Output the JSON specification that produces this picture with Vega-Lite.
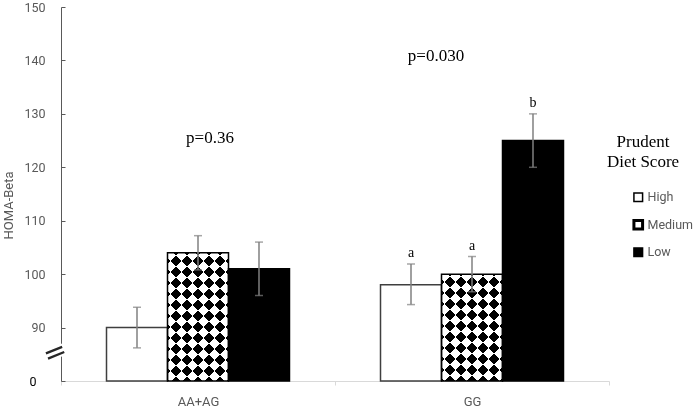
{
  "$schema": "https://vega.github.io/schema/vega-lite/v6.json",
  "width": 548,
  "height": 374,
  "autosize": {"type": "none"},
  "padding": {"left": 61, "top": 7, "right": 90, "bottom": 27},
  "background": "white",
  "config": {"view": {"stroke": null}, "font": "Roboto"},
  "datasets": {
    "bars": [
      {"geno": "AA+AG", "diet": "High", "mean": 90, "lo": 86.2, "hi": 93.8, "letter": ""},
      {"geno": "AA+AG", "diet": "Medium", "mean": 104, "lo": 100.8, "hi": 107.2, "letter": ""},
      {"geno": "AA+AG", "diet": "Low", "mean": 101, "lo": 96, "hi": 106, "letter": ""},
      {"geno": "GG", "diet": "High", "mean": 98, "lo": 94.3, "hi": 101.9, "letter": "a"},
      {"geno": "GG", "diet": "Medium", "mean": 100, "lo": 96.7, "hi": 103.3, "letter": "a"},
      {"geno": "GG", "diet": "Low", "mean": 125, "lo": 120, "hi": 130, "letter": "b"}
    ],
    "pvals": [
      {"geno": "AA+AG", "label": "p=0.36", "y": 125.4},
      {"geno": "GG", "label": "p=0.030", "y": 140.9}
    ]
  },
  "data": {"name": "bars"},
  "layer": [
    {
      "mark": {"type": "bar"},
      "encoding": {
        "x": {"field": "geno", "type": "nominal", "title": null,
          "scale": {"domain": ["AA+AG", "GG"], "paddingInner": 0, "paddingOuter": 0},
          "axis": {"labelAngle": 0, "labelFont": "Roboto", "labelFontSize": 13, "labelColor": "#595959",
                   "domainColor": "#d9d9d9", "domainWidth": 1, "tickColor": "#d9d9d9", "tickBand": "extent",
                   "tickSize": 4, "labelPadding": 10}},
        "xOffset": {"field": "diet", "type": "nominal", "scale": {"domain": ["High", "Medium", "Low"], "paddingInner": 0, "paddingOuter": 0.746}},
        "y": {"field": "mean", "type": "quantitative", "title": "HOMA-Beta",
          "scale": {"domain": [80, 150], "nice": false, "zero": false},
          "axis": {"values": [80, 90, 100, 110, 120, 130, 140, 150], "grid": false,
                   "labelExpr": "datum.value === 80 ? '0' : datum.label",
                   "labelColor": {"condition": {"test": "datum.value === 80", "value": "#000000"}, "value": "#595959"},
                   "labelPadding": {"condition": {"test": "datum.value === 80", "value": 29}, "value": 20},
                   "labelFont": "Roboto", "labelFontSize": 12.5, "domainColor": "#595959", "tickColor": "#595959",
                   "tickSize": -4,
                   "titleFont": "Roboto", "titleFontSize": 13, "titleFontWeight": "normal", "titleColor": "#595959",
                   "titleX": -53, "titleY": 198, "titleBaseline": "middle", "titleAlign": "center"}},
        "y2": {"datum": 80},
        "fill": {"field": "diet", "type": "nominal",
          "scale": {"domain": ["High", "Medium", "Low"], "range": ["#ffffff", "#ffffff", "#000000"]},
          "legend": {"title": ["Prudent", "Diet Score"], "orient": "none", "legendX": 546, "legendY": 127,
                     "padding": 0, "titleFont": "Liberation Serif", "titleFontSize": 17, "titleFontWeight": "normal",
                     "titleColor": "#000000", "titleAnchor": "start", "titleAlign": "center", "titleLineHeight": 20,
                     "titleBaseline": "top", "titlePadding": 20,
                     "symbolType": "square", "symbolSize": 75, "symbolStrokeColor": "#000000", "symbolStrokeWidth": 1.5,
                     "symbolOffset": -11,
                     "labelFont": "Roboto", "labelFontSize": 12.5, "labelColor": "#595959", "labelOffset": 3, "rowPadding": 8.5,
                     "encode": {"symbols": {"update": {"strokeWidth": {"signal": "datum.value === 'Medium' ? 3 : 1.5"}, "stroke": {"value": "#000000"}}}}}}
      }
    },
    {
      "transform": [{"filter": "datum.diet === 'Medium' && datum.geno === 'AA+AG'"}],
      "mark": {"type": "bar", "fill": {"gradient": "linear", "x1": 0, "y1": 0, "x2": 0.5725, "y2": 1.2034, "stops": [
        {"offset": 0, "color": "#000000"}, {"offset": 0.0581, "color": "#000000"}, {"offset": 0.0581, "color": "#ffffff"}, {"offset": 0.1163, "color": "#ffffff"},
        {"offset": 0.1163, "color": "#000000"}, {"offset": 0.1744, "color": "#000000"}, {"offset": 0.1744, "color": "#ffffff"}, {"offset": 0.2325, "color": "#ffffff"},
        {"offset": 0.2325, "color": "#000000"}, {"offset": 0.2907, "color": "#000000"}, {"offset": 0.2907, "color": "#ffffff"}, {"offset": 0.3488, "color": "#ffffff"},
        {"offset": 0.3488, "color": "#000000"}, {"offset": 0.4069, "color": "#000000"}, {"offset": 0.4069, "color": "#ffffff"}, {"offset": 0.4650, "color": "#ffffff"},
        {"offset": 0.4650, "color": "#000000"}, {"offset": 0.5232, "color": "#000000"}, {"offset": 0.5232, "color": "#ffffff"}, {"offset": 0.5813, "color": "#ffffff"},
        {"offset": 0.5813, "color": "#000000"}, {"offset": 0.6394, "color": "#000000"}, {"offset": 0.6394, "color": "#ffffff"}, {"offset": 0.6976, "color": "#ffffff"},
        {"offset": 0.6976, "color": "#000000"}, {"offset": 0.7557, "color": "#000000"}, {"offset": 0.7557, "color": "#ffffff"}, {"offset": 0.8138, "color": "#ffffff"},
        {"offset": 0.8138, "color": "#000000"}, {"offset": 0.8720, "color": "#000000"}, {"offset": 0.8720, "color": "#ffffff"}, {"offset": 0.9301, "color": "#ffffff"},
        {"offset": 0.9301, "color": "#000000"}, {"offset": 0.9882, "color": "#000000"}, {"offset": 0.9882, "color": "#ffffff"}, {"offset": 1, "color": "#ffffff"}]}},
      "encoding": {
        "x": {"field": "geno", "type": "nominal", "title": null},
        "xOffset": {"field": "diet", "type": "nominal", "scale": {"domain": ["High", "Medium", "Low"], "paddingInner": 0, "paddingOuter": 0.746}},
        "y": {"field": "mean", "type": "quantitative", "title": "HOMA-Beta"},
        "y2": {"datum": 80}
      }
    },
    {
      "transform": [{"filter": "datum.diet === 'Medium' && datum.geno === 'AA+AG'"}],
      "mark": {"type": "bar", "blend": "difference", "fill": {"gradient": "linear", "x1": 1, "y1": 0, "x2": 0.4275, "y2": 1.2034, "stops": [
        {"offset": 0, "color": "rgba(255,255,255,0)"}, {"offset": 0.0581, "color": "rgba(255,255,255,0)"}, {"offset": 0.0581, "color": "#ffffff"}, {"offset": 0.1163, "color": "#ffffff"},
        {"offset": 0.1163, "color": "rgba(255,255,255,0)"}, {"offset": 0.1744, "color": "rgba(255,255,255,0)"}, {"offset": 0.1744, "color": "#ffffff"}, {"offset": 0.2325, "color": "#ffffff"},
        {"offset": 0.2325, "color": "rgba(255,255,255,0)"}, {"offset": 0.2907, "color": "rgba(255,255,255,0)"}, {"offset": 0.2907, "color": "#ffffff"}, {"offset": 0.3488, "color": "#ffffff"},
        {"offset": 0.3488, "color": "rgba(255,255,255,0)"}, {"offset": 0.4069, "color": "rgba(255,255,255,0)"}, {"offset": 0.4069, "color": "#ffffff"}, {"offset": 0.4650, "color": "#ffffff"},
        {"offset": 0.4650, "color": "rgba(255,255,255,0)"}, {"offset": 0.5232, "color": "rgba(255,255,255,0)"}, {"offset": 0.5232, "color": "#ffffff"}, {"offset": 0.5813, "color": "#ffffff"},
        {"offset": 0.5813, "color": "rgba(255,255,255,0)"}, {"offset": 0.6394, "color": "rgba(255,255,255,0)"}, {"offset": 0.6394, "color": "#ffffff"}, {"offset": 0.6976, "color": "#ffffff"},
        {"offset": 0.6976, "color": "rgba(255,255,255,0)"}, {"offset": 0.7557, "color": "rgba(255,255,255,0)"}, {"offset": 0.7557, "color": "#ffffff"}, {"offset": 0.8138, "color": "#ffffff"},
        {"offset": 0.8138, "color": "rgba(255,255,255,0)"}, {"offset": 0.8720, "color": "rgba(255,255,255,0)"}, {"offset": 0.8720, "color": "#ffffff"}, {"offset": 0.9301, "color": "#ffffff"},
        {"offset": 0.9301, "color": "rgba(255,255,255,0)"}, {"offset": 0.9882, "color": "rgba(255,255,255,0)"}, {"offset": 0.9882, "color": "#ffffff"}, {"offset": 1, "color": "#ffffff"}]}},
      "encoding": {
        "x": {"field": "geno", "type": "nominal", "title": null},
        "xOffset": {"field": "diet", "type": "nominal", "scale": {"domain": ["High", "Medium", "Low"], "paddingInner": 0, "paddingOuter": 0.746}},
        "y": {"field": "mean", "type": "quantitative", "title": "HOMA-Beta"},
        "y2": {"datum": 80}
      }
    },
    {
      "transform": [{"filter": "datum.diet === 'Medium' && datum.geno === 'GG'"}],
      "mark": {"type": "bar", "fill": {"gradient": "linear", "x1": 0, "y1": 0, "x2": 0.6763, "y2": 1.1848, "stops": [
        {"offset": 0, "color": "#000000"}, {"offset": 0.0655, "color": "#000000"}, {"offset": 0.0655, "color": "#ffffff"}, {"offset": 0.1311, "color": "#ffffff"},
        {"offset": 0.1311, "color": "#000000"}, {"offset": 0.1966, "color": "#000000"}, {"offset": 0.1966, "color": "#ffffff"}, {"offset": 0.2621, "color": "#ffffff"},
        {"offset": 0.2621, "color": "#000000"}, {"offset": 0.3277, "color": "#000000"}, {"offset": 0.3277, "color": "#ffffff"}, {"offset": 0.3932, "color": "#ffffff"},
        {"offset": 0.3932, "color": "#000000"}, {"offset": 0.4587, "color": "#000000"}, {"offset": 0.4587, "color": "#ffffff"}, {"offset": 0.5243, "color": "#ffffff"},
        {"offset": 0.5243, "color": "#000000"}, {"offset": 0.5898, "color": "#000000"}, {"offset": 0.5898, "color": "#ffffff"}, {"offset": 0.6553, "color": "#ffffff"},
        {"offset": 0.6553, "color": "#000000"}, {"offset": 0.7209, "color": "#000000"}, {"offset": 0.7209, "color": "#ffffff"}, {"offset": 0.7864, "color": "#ffffff"},
        {"offset": 0.7864, "color": "#000000"}, {"offset": 0.8519, "color": "#000000"}, {"offset": 0.8519, "color": "#ffffff"}, {"offset": 0.9174, "color": "#ffffff"},
        {"offset": 0.9174, "color": "#000000"}, {"offset": 0.9830, "color": "#000000"}, {"offset": 0.9830, "color": "#ffffff"}, {"offset": 1, "color": "#ffffff"}]}},
      "encoding": {
        "x": {"field": "geno", "type": "nominal", "title": null},
        "xOffset": {"field": "diet", "type": "nominal", "scale": {"domain": ["High", "Medium", "Low"], "paddingInner": 0, "paddingOuter": 0.746}},
        "y": {"field": "mean", "type": "quantitative", "title": "HOMA-Beta"},
        "y2": {"datum": 80}
      }
    },
    {
      "transform": [{"filter": "datum.diet === 'Medium' && datum.geno === 'GG'"}],
      "mark": {"type": "bar", "blend": "difference", "fill": {"gradient": "linear", "x1": 1, "y1": 0, "x2": 0.3237, "y2": 1.1848, "stops": [
        {"offset": 0, "color": "rgba(255,255,255,0)"}, {"offset": 0.0655, "color": "rgba(255,255,255,0)"}, {"offset": 0.0655, "color": "#ffffff"}, {"offset": 0.1311, "color": "#ffffff"},
        {"offset": 0.1311, "color": "rgba(255,255,255,0)"}, {"offset": 0.1966, "color": "rgba(255,255,255,0)"}, {"offset": 0.1966, "color": "#ffffff"}, {"offset": 0.2621, "color": "#ffffff"},
        {"offset": 0.2621, "color": "rgba(255,255,255,0)"}, {"offset": 0.3277, "color": "rgba(255,255,255,0)"}, {"offset": 0.3277, "color": "#ffffff"}, {"offset": 0.3932, "color": "#ffffff"},
        {"offset": 0.3932, "color": "rgba(255,255,255,0)"}, {"offset": 0.4587, "color": "rgba(255,255,255,0)"}, {"offset": 0.4587, "color": "#ffffff"}, {"offset": 0.5243, "color": "#ffffff"},
        {"offset": 0.5243, "color": "rgba(255,255,255,0)"}, {"offset": 0.5898, "color": "rgba(255,255,255,0)"}, {"offset": 0.5898, "color": "#ffffff"}, {"offset": 0.6553, "color": "#ffffff"},
        {"offset": 0.6553, "color": "rgba(255,255,255,0)"}, {"offset": 0.7209, "color": "rgba(255,255,255,0)"}, {"offset": 0.7209, "color": "#ffffff"}, {"offset": 0.7864, "color": "#ffffff"},
        {"offset": 0.7864, "color": "rgba(255,255,255,0)"}, {"offset": 0.8519, "color": "rgba(255,255,255,0)"}, {"offset": 0.8519, "color": "#ffffff"}, {"offset": 0.9174, "color": "#ffffff"},
        {"offset": 0.9174, "color": "rgba(255,255,255,0)"}, {"offset": 0.9830, "color": "rgba(255,255,255,0)"}, {"offset": 0.9830, "color": "#ffffff"}, {"offset": 1, "color": "#ffffff"}]}},
      "encoding": {
        "x": {"field": "geno", "type": "nominal", "title": null},
        "xOffset": {"field": "diet", "type": "nominal", "scale": {"domain": ["High", "Medium", "Low"], "paddingInner": 0, "paddingOuter": 0.746}},
        "y": {"field": "mean", "type": "quantitative", "title": "HOMA-Beta"},
        "y2": {"datum": 80}
      }
    },
    {
      "mark": {"type": "bar", "fill": "transparent", "strokeWidth": 1.5},
      "encoding": {
        "x": {"field": "geno", "type": "nominal", "title": null},
        "xOffset": {"field": "diet", "type": "nominal", "scale": {"domain": ["High", "Medium", "Low"], "paddingInner": 0, "paddingOuter": 0.746}},
        "y": {"field": "mean", "type": "quantitative", "title": "HOMA-Beta"},
        "y2": {"datum": 80},
        "stroke": {"condition": {"test": "datum.diet === 'High'", "value": "#3f3f3f"}, "value": "#000000"}
      }
    },
    {
      "mark": {"type": "rule", "color": "#808080", "strokeWidth": 1.5},
      "encoding": {
        "x": {"field": "geno", "type": "nominal", "title": null},
        "xOffset": {"field": "diet", "type": "nominal", "scale": {"domain": ["High", "Medium", "Low"], "paddingInner": 0, "paddingOuter": 0.746}},
        "y": {"field": "lo", "type": "quantitative", "title": "HOMA-Beta"},
        "y2": {"field": "hi"}
      }
    },
    {
      "mark": {"type": "tick", "color": "#808080", "thickness": 1.5, "size": 8, "orient": "horizontal"},
      "encoding": {
        "x": {"field": "geno", "type": "nominal", "title": null},
        "xOffset": {"field": "diet", "type": "nominal", "scale": {"domain": ["High", "Medium", "Low"], "paddingInner": 0, "paddingOuter": 0.746}},
        "y": {"field": "lo", "type": "quantitative", "title": "HOMA-Beta"}
      }
    },
    {
      "mark": {"type": "tick", "color": "#808080", "thickness": 1.5, "size": 8, "orient": "horizontal"},
      "encoding": {
        "x": {"field": "geno", "type": "nominal", "title": null},
        "xOffset": {"field": "diet", "type": "nominal", "scale": {"domain": ["High", "Medium", "Low"], "paddingInner": 0, "paddingOuter": 0.746}},
        "y": {"field": "hi", "type": "quantitative", "title": "HOMA-Beta"}
      }
    },
    {
      "transform": [{"filter": "datum.letter !== ''"}],
      "mark": {"type": "text", "font": "Liberation Serif", "fontSize": 14, "color": "#000000", "baseline": "alphabetic", "dy": -7},
      "encoding": {
        "x": {"field": "geno", "type": "nominal", "title": null},
        "xOffset": {"field": "diet", "type": "nominal", "scale": {"domain": ["High", "Medium", "Low"], "paddingInner": 0, "paddingOuter": 0.746}},
        "y": {"field": "hi", "type": "quantitative", "title": "HOMA-Beta"},
        "text": {"field": "letter"}
      }
    },
    {
      "data": {"name": "pvals"},
      "transform": [{"filter": "datum.geno === 'AA+AG'"}],
      "mark": {"type": "text", "font": "Liberation Serif", "fontSize": 17, "color": "#000000", "baseline": "middle", "dx": 12},
      "encoding": {
        "x": {"field": "geno", "type": "nominal", "title": null},
        "y": {"field": "y", "type": "quantitative", "title": "HOMA-Beta"},
        "text": {"field": "label"}
      }
    },
    {
      "data": {"name": "pvals"},
      "transform": [{"filter": "datum.geno === 'GG'"}],
      "mark": {"type": "text", "font": "Liberation Serif", "fontSize": 17, "color": "#000000", "baseline": "middle", "dx": -36},
      "encoding": {
        "x": {"field": "geno", "type": "nominal", "title": null},
        "y": {"field": "y", "type": "quantitative", "title": "HOMA-Beta"},
        "text": {"field": "label"}
      }
    },
    {
      "data": {"values": [{"t": "="}]},
      "mark": {"type": "text", "font": "DejaVu Sans", "fontSize": 28, "color": "#ffffff", "stroke": "#ffffff", "strokeWidth": 4, "angle": 338, "baseline": "middle", "align": "center", "dx": -6},
      "encoding": {
        "x": {"datum": "AA+AG", "bandPosition": 0},
        "y": {"datum": 85.6},
        "text": {"field": "t"}
      }
    },
    {
      "data": {"values": [{"t": "="}]},
      "mark": {"type": "text", "font": "DejaVu Sans", "fontSize": 28, "color": "#262626", "angle": 338, "baseline": "middle", "align": "center", "dx": -6},
      "encoding": {
        "x": {"datum": "AA+AG", "bandPosition": 0},
        "y": {"datum": 85.6},
        "text": {"field": "t"}
      }
    }
  ]
}
